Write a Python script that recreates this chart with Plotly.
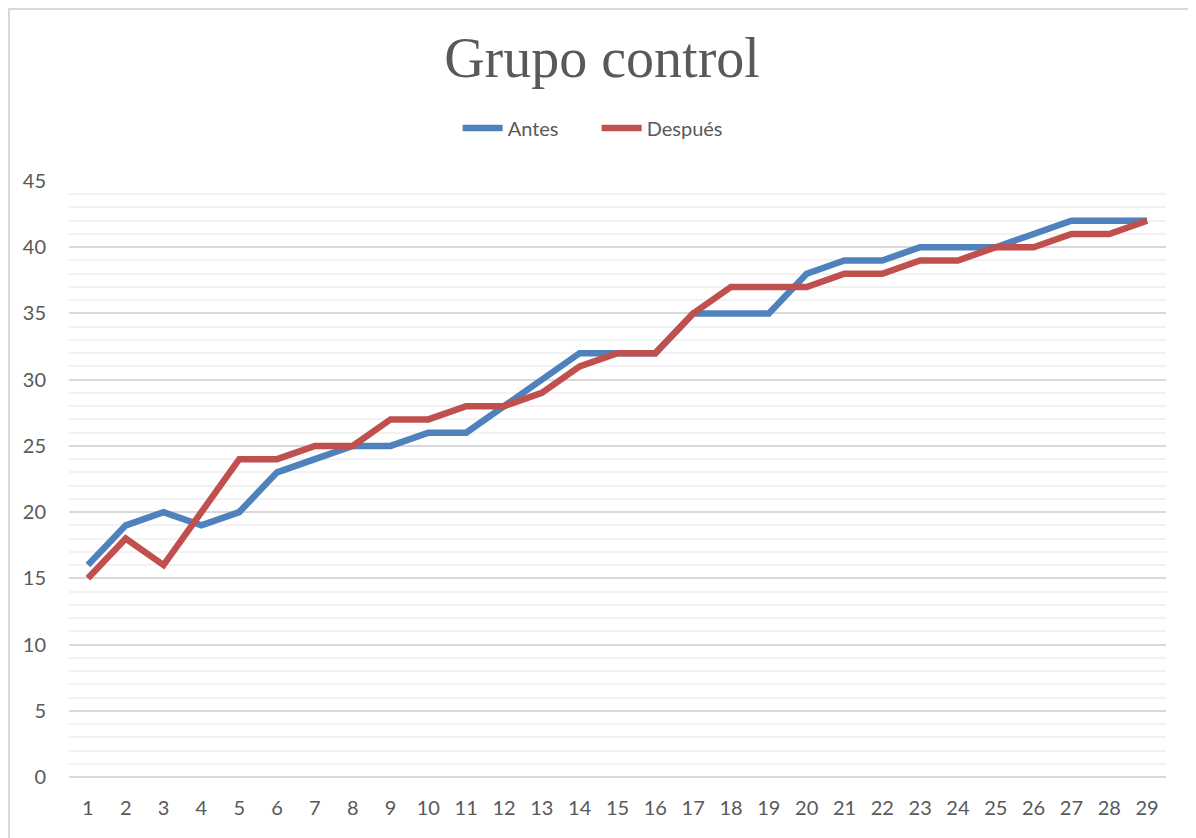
import plotly.graph_objects as go

categories = [str(i) for i in range(1, 30)]
antes = [16, 19, 20, 19, 20, 23, 24, 25, 25, 26, 26, 28, 30, 32, 32, 32, 35, 35, 35, 38, 39, 39, 40, 40, 40, 41, 42, 42, 42]
despues = [15, 18, 16, 20, 24, 24, 25, 25, 27, 27, 28, 28, 29, 31, 32, 32, 35, 37, 37, 37, 38, 38, 39, 39, 40, 40, 41, 41, 42]
y_ticks = [0, 5, 10, 15, 20, 25, 30, 35, 40, 45]

fig = go.Figure()
fig.add_trace(go.Scatter(x=categories, y=antes, mode="lines", name="Antes",
                         line=dict(color="#4F81BD", width=6.5)))
fig.add_trace(go.Scatter(x=categories, y=despues, mode="lines", name="Después",
                         line=dict(color="#C0504D", width=6.5)))

fig.update_layout(
    width=1188, height=830,
    margin=dict(l=61, r=30, t=173, b=61, autoexpand=False),
    paper_bgcolor="white", plot_bgcolor="white",
    title=dict(text="Grupo control", x=0.5, xanchor="center", y=0.941, yanchor="middle",
               font=dict(family="Liberation Serif", size=56, color="#595959")),
    legend=dict(orientation="h", x=0.481, xanchor="center", y=1.089, yanchor="middle",
                font=dict(family="Lato", size=20, color="#595959"), itemwidth=40,
                entrywidth=84),
    showlegend=True,
    xaxis=dict(type="category", range=[-0.5, 28.5], showgrid=False, zeroline=False,
               showline=False, ticks="", automargin=False, ticklabelstandoff=17,
               tickfont=dict(family="Lato", size=20, color="#595959")),
    yaxis=dict(range=[0, 45], tickvals=y_ticks, showgrid=True, gridcolor="#d9d9d9", gridwidth=1.5,
               zeroline=True, zerolinecolor="#d9d9d9", zerolinewidth=1.5,
               showline=False, ticks="", ticklabelstandoff=22, automargin=False,
               tickfont=dict(family="Lato", size=20, color="#595959"),
               minor=dict(dtick=1, showgrid=True, gridcolor="#f2f2f2", gridwidth=1.5)),
)

fig.add_shape(type="rect", xref="paper", yref="paper",
              x0=-0.0547, x1=1.0237, y0=-0.11, y1=1.2886,
              line=dict(color="#d9d9d9", width=2), layer="below")

fig.write_html("out.html")
